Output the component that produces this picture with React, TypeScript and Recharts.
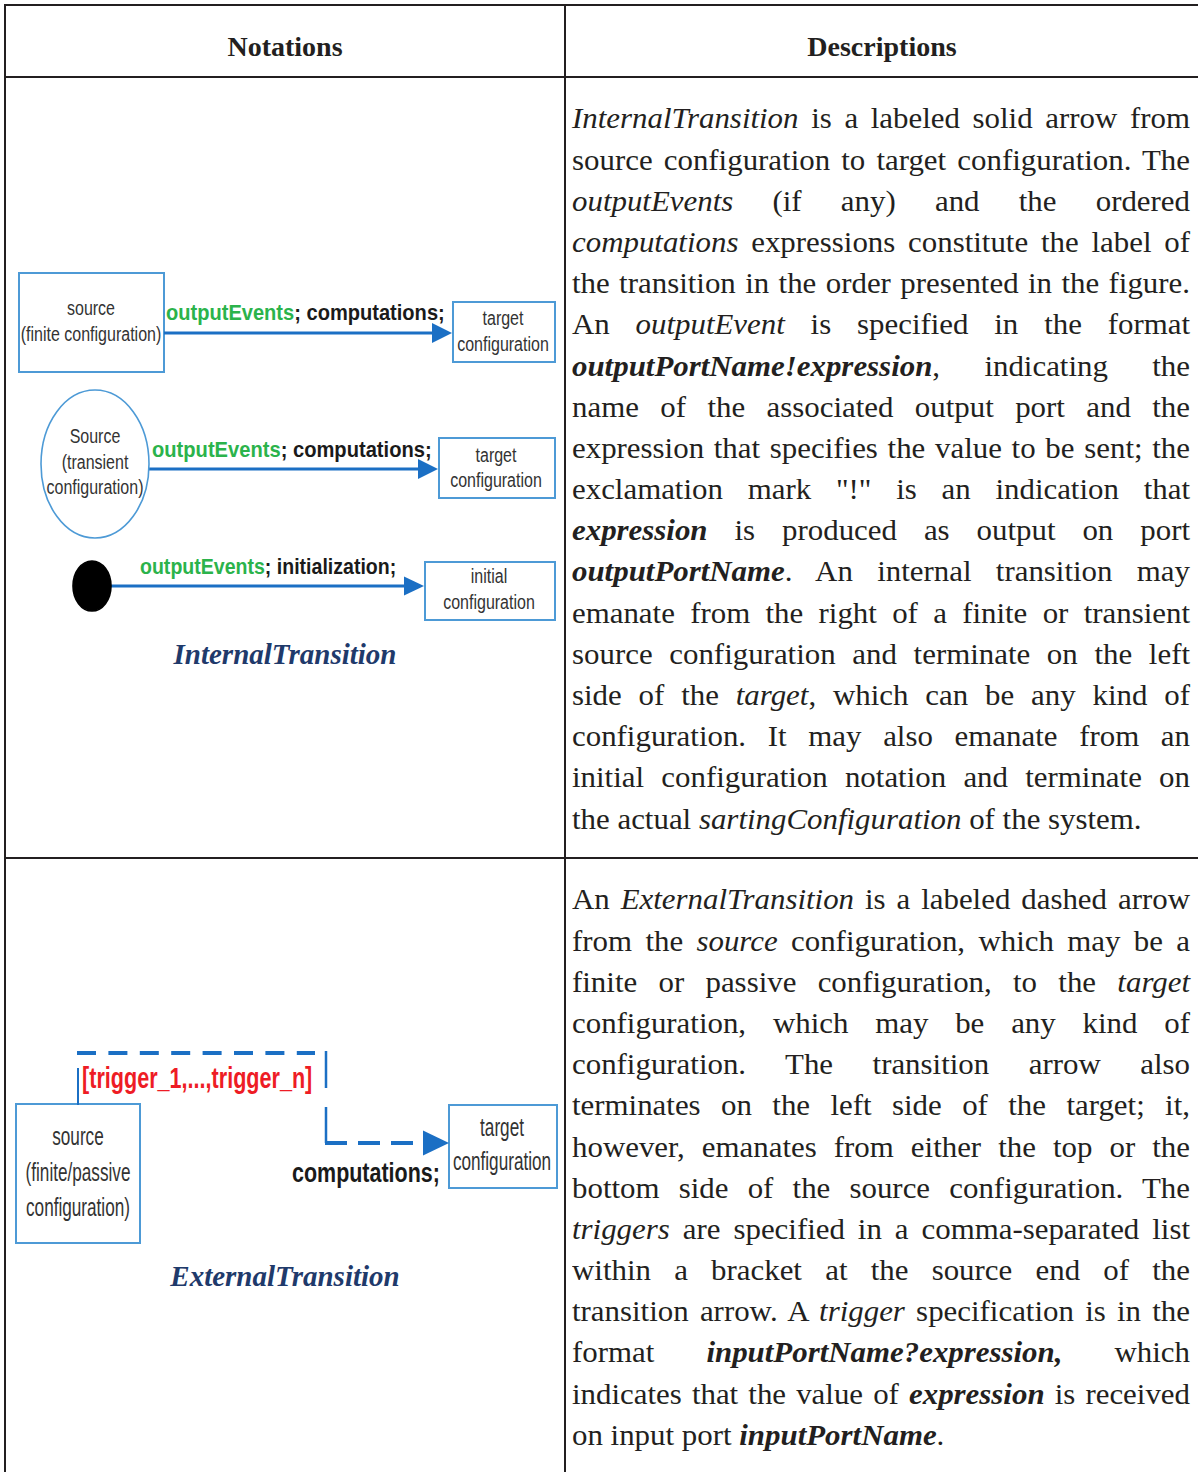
import React from "react";
import {
  ComposedChart,
  XAxis,
  YAxis,
  ReferenceArea,
  ReferenceLine,
  ReferenceDot,
} from "recharts";

// ---- text content ----
const HEADERS = ["Notations", "Descriptions"];
const TITLES = ["InternalTransition", "ExternalTransition"];

const SOURCE_TEXT = [
  ["source", "(finite configuration)"],
  ["Source", "(transient", "configuration)"],
  ["source", "(finite/passive", "configuration)"],
];
const TARGET_TEXT = [
  ["target", "configuration"],
  ["target", "configuration"],
  ["initial", "configuration"],
  ["target", "configuration"],
];
const EVENTS = "outputEvents";
const ARROW_TAILS = ["; computations;", "; computations;", "; initialization;"];
const TRIGGERS = "[trigger_1,...,trigger_n]";
const EXT_ACTION = "computations;";

type Seg = { t: string; s?: "i" | "bi" };

const INTERNAL_DESC: Seg[][] = [
  [{ t: "InternalTransition", s: "i" }, { t: " is a labeled solid arrow from" }],
  [{ t: "source configuration to target configuration. The" }],
  [{ t: "outputEvents", s: "i" }, { t: " (if any) and the ordered" }],
  [{ t: "computations", s: "i" }, { t: " expressions constitute the label of" }],
  [{ t: "the transition in the order presented in the figure." }],
  [{ t: "An " }, { t: "outputEvent", s: "i" }, { t: " is specified in the format" }],
  [{ t: "outputPortName!expression", s: "bi" }, { t: ", indicating the" }],
  [{ t: "name of the associated output port and the" }],
  [{ t: "expression that specifies the value to be sent; the" }],
  [{ t: 'exclamation mark "!" is an indication that' }],
  [{ t: "expression", s: "bi" }, { t: " is produced as output on port" }],
  [{ t: "outputPortName", s: "bi" }, { t: ". An internal transition may" }],
  [{ t: "emanate from the right of a finite or transient" }],
  [{ t: "source configuration and terminate on the left" }],
  [{ t: "side of the " }, { t: "target", s: "i" }, { t: ", which can be any kind of" }],
  [{ t: "configuration. It may also emanate from an" }],
  [{ t: "initial configuration notation and terminate on" }],
  [{ t: "the actual " }, { t: "sartingConfiguration", s: "i" }, { t: " of the system." }],
];

const EXTERNAL_DESC: Seg[][] = [
  [{ t: "An " }, { t: "ExternalTransition", s: "i" }, { t: " is a labeled dashed arrow" }],
  [{ t: "from the " }, { t: "source", s: "i" }, { t: " configuration, which may be a" }],
  [{ t: "finite or passive configuration, to the " }, { t: "target", s: "i" }],
  [{ t: "configuration, which may be any kind of" }],
  [{ t: "configuration. The transition arrow also" }],
  [{ t: "terminates on the left side of the target; it," }],
  [{ t: "however, emanates from either the top or the" }],
  [{ t: "bottom side of the source configuration. The" }],
  [{ t: "triggers", s: "i" }, { t: " are specified in a comma-separated list" }],
  [{ t: "within a bracket at the source end of the" }],
  [{ t: "transition arrow. A " }, { t: "trigger", s: "i" }, { t: " specification is in the" }],
  [{ t: "format " }, { t: "inputPortName?expression,", s: "bi" }, { t: " which" }],
  [{ t: "indicates that the value of " }, { t: "expression", s: "bi" }, { t: " is received" }],
  [{ t: "on input port " }, { t: "inputPortName", s: "bi" }, { t: "." }],
];

// ---- styles ----
const SERIF = "'Liberation Serif', 'Times New Roman', serif";
const SANS = "'Liberation Sans', Arial, sans-serif";
const INK = "#231f20";
const BOX = "#4d9ad6";
const ARROW = "#1b6fc4";
const GREEN = "#2bb34b";
const RED = "#ee1c25";
const NAVY = "#1f3a6b";
const LH = 41.2;
const STRETCH = 1.08; // the scanned body text runs wider than plain Times

const textShape =
  (lines: string[], fs: number, sx: number, dy: number) => (p: any) =>
    (
      <g transform={`translate(${p.cx},${p.cy}) scale(${sx},1)`}>
        {lines.map((l, i) => (
          <text
            key={i}
            x={0}
            y={(i - (lines.length - 1) / 2) * dy}
            textAnchor="middle"
            dominantBaseline="central"
            fontFamily={SANS}
            fontSize={fs}
            fill="#333"
          >
            {l}
          </text>
        ))}
      </g>
    );

const labelShape =
  (parts: { t: string; c: string }[], fs: number, sx: number) => (p: any) =>
    (
      <g transform={`translate(${p.cx},${p.cy}) scale(${sx},1)`}>
        <text x={0} y={0} dominantBaseline="central" fontFamily={SANS} fontSize={fs} fontWeight="bold">
          {parts.map((q, i) => (
            <tspan key={i} fill={q.c}>
              {q.t}
            </tspan>
          ))}
        </text>
      </g>
    );

const headShape = (len: number, half: number) => (p: any) =>
  (
    <polygon
      points={`${p.cx},${p.cy} ${p.cx - len},${p.cy - half} ${p.cx - len},${p.cy + half}`}
      fill={ARROW}
    />
  );

const ellipseShape = (rx: number, ry: number, fill: string, stroke: string) => (p: any) =>
  <ellipse cx={p.cx} cy={p.cy} rx={rx} ry={ry} fill={fill} stroke={stroke} strokeWidth={1.6} />;

function Diagrams() {
  const area = { fill: "#fff", fillOpacity: 1, stroke: BOX, strokeWidth: 2, ifOverflow: "visible" as const };
  const line = { stroke: ARROW, strokeWidth: 3, ifOverflow: "visible" as const };
  return (
    <ComposedChart width={558} height={1394} margin={{ top: 0, right: 0, bottom: 0, left: 0 }} data={[]}>
      <XAxis type="number" dataKey="x" domain={[6, 564]} hide allowDataOverflow />
      <YAxis type="number" dataKey="y" domain={[78, 1472]} reversed hide allowDataOverflow />

      {/* internal: finite source */}
      <ReferenceLine segment={[{ x: 164, y: 333 }, { x: 434, y: 333 }]} {...line} />
      <ReferenceDot x={452} y={333} r={0} ifOverflow="visible" shape={headShape(20, 10)} />
      <ReferenceArea x1={19} x2={164} y1={273} y2={372} {...area} />
      <ReferenceArea x1={453} x2={555} y1={302} y2={362} {...area} />
      <ReferenceDot x={91} y={321} r={0} ifOverflow="visible" shape={textShape(SOURCE_TEXT[0], 20, 0.8, 26)} />
      <ReferenceDot x={503} y={331} r={0} ifOverflow="visible" shape={textShape(TARGET_TEXT[0], 20, 0.8, 26)} />
      <ReferenceDot
        x={166}
        y={312}
        r={0}
        ifOverflow="visible"
        shape={labelShape([{ t: EVENTS, c: GREEN }, { t: ARROW_TAILS[0], c: "#1a1a1a" }], 22, 0.913)}
      />

      {/* internal: transient source */}
      <ReferenceLine segment={[{ x: 149, y: 469 }, { x: 420, y: 469 }]} {...line} />
      <ReferenceDot x={438} y={469} r={0} ifOverflow="visible" shape={headShape(20, 10)} />
      <ReferenceDot x={95} y={464} r={0} ifOverflow="visible" shape={ellipseShape(54, 74, "#fff", BOX)} />
      <ReferenceArea x1={439} x2={555} y1={438} y2={498} {...area} />
      <ReferenceDot x={95} y={462} r={0} ifOverflow="visible" shape={textShape(SOURCE_TEXT[1], 20, 0.8, 25.5)} />
      <ReferenceDot x={496} y={468} r={0} ifOverflow="visible" shape={textShape(TARGET_TEXT[1], 20, 0.8, 25)} />
      <ReferenceDot
        x={152}
        y={449}
        r={0}
        ifOverflow="visible"
        shape={labelShape([{ t: EVENTS, c: GREEN }, { t: ARROW_TAILS[1], c: "#1a1a1a" }], 22, 0.916)}
      />

      {/* internal: initial */}
      <ReferenceLine segment={[{ x: 110, y: 586 }, { x: 406, y: 586 }]} {...line} />
      <ReferenceDot x={424} y={586} r={0} ifOverflow="visible" shape={headShape(20, 9.5)} />
      <ReferenceDot x={92} y={586} r={0} ifOverflow="visible" shape={ellipseShape(19, 25, "#000", "#000")} />
      <ReferenceArea x1={425} x2={555} y1={562} y2={620} {...area} />
      <ReferenceDot x={489} y={589} r={0} ifOverflow="visible" shape={textShape(TARGET_TEXT[2], 20, 0.8, 26)} />
      <ReferenceDot
        x={140}
        y={566}
        r={0}
        ifOverflow="visible"
        shape={labelShape([{ t: EVENTS, c: GREEN }, { t: ARROW_TAILS[2], c: "#1a1a1a" }], 22, 0.889)}
      />

      {/* external */}
      <ReferenceLine segment={[{ x: 78, y: 1068 }, { x: 78, y: 1105 }]} stroke={ARROW} strokeWidth={2} ifOverflow="visible" />
      <ReferenceLine
        segment={[{ x: 77, y: 1053 }, { x: 315, y: 1053 }]}
        stroke={ARROW}
        strokeWidth={4}
        strokeDasharray="19 12.4"
        ifOverflow="visible"
      />
      <ReferenceLine
        segment={[{ x: 326, y: 1051 }, { x: 326, y: 1143 }]}
        stroke={ARROW}
        strokeWidth={2.5}
        strokeDasharray="37 19"
        ifOverflow="visible"
      />
      <ReferenceLine
        segment={[{ x: 325, y: 1143 }, { x: 424, y: 1143 }]}
        stroke={ARROW}
        strokeWidth={4}
        strokeDasharray="22 11"
        ifOverflow="visible"
      />
      <ReferenceDot x={449} y={1143} r={0} ifOverflow="visible" shape={headShape(26, 12.5)} />
      <ReferenceArea x1={16} x2={140} y1={1104} y2={1243} {...area} />
      <ReferenceArea x1={449} x2={557} y1={1105} y2={1188} {...area} />
      <ReferenceDot x={78} y={1172} r={0} ifOverflow="visible" shape={textShape(SOURCE_TEXT[2], 26, 0.66, 35.5)} />
      <ReferenceDot x={502} y={1144} r={0} ifOverflow="visible" shape={textShape(TARGET_TEXT[3], 26, 0.66, 34)} />
      <ReferenceDot x={82} y={1078} r={0} ifOverflow="visible" shape={labelShape([{ t: TRIGGERS, c: RED }], 30, 0.72)} />
      <ReferenceDot
        x={292}
        y={1172}
        r={0}
        ifOverflow="visible"
        shape={labelShape([{ t: EXT_ACTION, c: "#1a1a1a" }], 28, 0.767)}
      />
    </ComposedChart>
  );
}

function DescBlock({ lines, top }: { lines: Seg[][]; top: number }) {
  return (
    <div
      style={{
        position: "absolute",
        left: 572,
        top,
        width: 618 / STRETCH,
        transform: `scaleX(${STRETCH})`,
        transformOrigin: "0 0",
        fontFamily: SERIF,
        fontSize: 28.6,
        color: INK,
      }}
    >
      {lines.map((segs, i) => (
        <div
          key={i}
          style={{
            height: LH,
            lineHeight: `${LH}px`,
            whiteSpace: "nowrap",
            textAlign: "justify",
            textAlignLast: i === lines.length - 1 ? "left" : "justify",
          }}
        >
          {segs.map((g, j) => (
            <span key={j} style={{ fontStyle: g.s ? "italic" : "normal", fontWeight: g.s === "bi" ? "bold" : "normal" }}>
              {g.t}
            </span>
          ))}
        </div>
      ))}
    </div>
  );
}

const rule = (left: number, top: number, width: number, height: number) => (
  <div style={{ position: "absolute", left, top, width, height, background: INK }} />
);

const titleStyle = {
  position: "absolute" as const,
  left: 6,
  width: 558,
  textAlign: "center" as const,
  fontFamily: SERIF,
  fontWeight: "bold",
  fontStyle: "italic",
  fontSize: 29,
  lineHeight: "32px",
  color: NAVY,
};

export default function App() {
  return (
    <div style={{ position: "absolute", left: 0, top: 0, width: 1198, height: 1472, overflow: "hidden", background: "#fff" }}>
      {rule(4, 4, 1194, 2)}
      {rule(4, 76, 1194, 2)}
      {rule(4, 857, 1194, 2)}
      {rule(4, 4, 2, 1468)}
      {rule(564, 4, 2, 1468)}

      <div style={{ position: "absolute", left: 6, top: 31, width: 558, textAlign: "center", fontFamily: SERIF, fontWeight: "bold", fontSize: 28, lineHeight: "32px", color: INK }}>
        {HEADERS[0]}
      </div>
      <div style={{ position: "absolute", left: 566, top: 31, width: 632, textAlign: "center", fontFamily: SERIF, fontWeight: "bold", fontSize: 28, lineHeight: "32px", color: INK }}>
        {HEADERS[1]}
      </div>

      <div style={{ position: "absolute", left: 6, top: 78 }}>
        <Diagrams />
      </div>

      <div style={{ ...titleStyle, top: 638 }}>{TITLES[0]}</div>
      <div style={{ ...titleStyle, top: 1260 }}>{TITLES[1]}</div>

      <DescBlock lines={INTERNAL_DESC} top={98.4} />
      <DescBlock lines={EXTERNAL_DESC} top={879.4} />
    </div>
  );
}
